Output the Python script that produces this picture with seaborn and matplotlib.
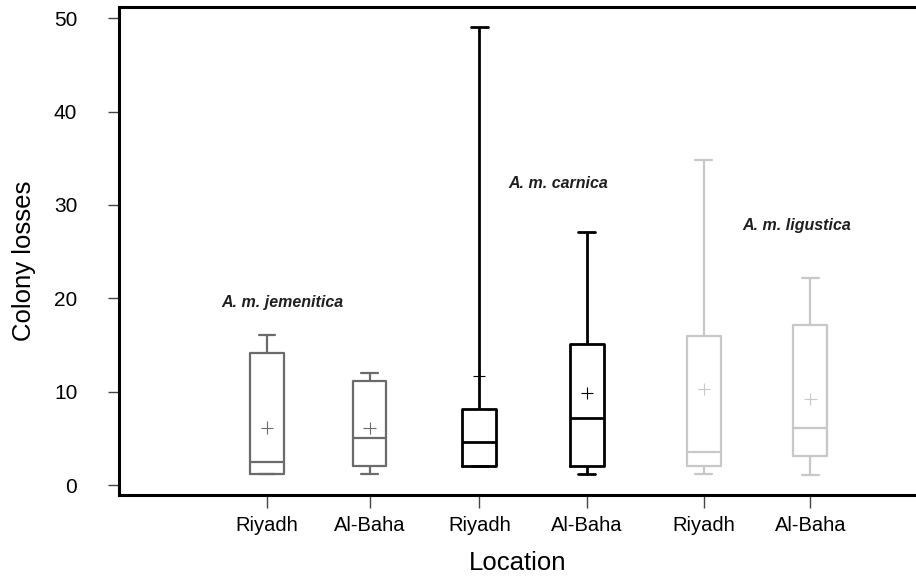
import matplotlib
matplotlib.use("Agg")
import matplotlib.pyplot as plt
from matplotlib.colors import to_hex
import seaborn as sns
import pandas as pd

# five-number summaries: min, Q1, median, Q3, max
species = ["A. m. jemenitica", "A. m. jemenitica", "A. m. carnica",
           "A. m. carnica", "A. m. ligustica", "A. m. ligustica"]
locations = ["Riyadh", "Al-Baha", "Riyadh", "Al-Baha", "Riyadh", "Al-Baha"]
summaries = [
    [1.15, 1.15, 2.5, 14.1, 16.05],
    [1.18, 2.07, 5.07, 11.16, 12.05],
    [2.07, 2.07, 4.65, 8.1, 49.07],
    [1.18, 2.07, 7.15, 15.13, 27.07],
    [1.18, 2.07, 3.58, 16.0, 34.8],
    [1.07, 3.14, 6.08, 17.1, 22.17],
]
means = [6.15, 6.08, 11.7, 9.84, 10.26, 9.2]
group_names = ["A. m. jemenitica", "A. m. carnica", "A. m. ligustica"]

# layout
box_x = [1.0, 2.0, 3.07, 4.12, 5.26, 6.30]
name_x = [1.15, 3.84, 6.17]
name_y = [19.6, 32.35, 27.75]
palette = {"A. m. jemenitica": "#6b6b6b", "A. m. carnica": "#000000",
           "A. m. ligustica": "#c8c8c8"}

rows = []
for x, sp, vals in zip(box_x, species, summaries):
    for v in vals:
        rows.append({"x": x, "loss": v, "species": sp})
df = pd.DataFrame(rows)

sns.set_style("ticks")
plt.rcParams["font.family"] = ["Liberation Sans", "DejaVu Sans"]
plt.rcParams["text.color"] = "black"
plt.rcParams["axes.labelcolor"] = "black"
plt.rcParams["xtick.labelcolor"] = "black"
plt.rcParams["ytick.labelcolor"] = "black"

fig = plt.figure(figsize=(9.16, 5.79), dpi=100)
ax = fig.add_axes([119 / 916, 84 / 579, 1 - 119 / 916, 488 / 579])

sns.boxplot(data=df, x="x", y="loss", hue="species", palette=palette,
            native_scale=True, dodge=False, fill=False, whis=(0, 100),
            width=0.33, linewidth=1.6, showfliers=False, legend=False, ax=ax)
sns.scatterplot(x=box_x, y=means, hue=species, palette=palette, marker="+",
                s=80, linewidth=0.8, legend=False, ax=ax, zorder=5)

# the carnica boxes are drawn heavier
for ln in ax.lines:
    if to_hex(ln.get_color()) == "#000000":
        ln.set_linewidth(2.0)

for name, tx, ty in zip(group_names, name_x, name_y):
    ax.text(tx, ty, name, ha="center", va="center", fontsize=11.5,
            fontweight="bold", fontstyle="italic", color="#1f1f1f")

ax.set_xlim(-0.444, 7.33)
ax.set_ylim(-1.07, 51.21)
ax.set_yticks([0, 10, 20, 30, 40, 50])
ax.set_xticks(box_x)
ax.set_xticklabels(locations)
ax.tick_params(axis="y", direction="out", length=8, width=1.0, color="#444444",
               pad=22, labelsize=15)
ax.tick_params(axis="x", direction="out", length=9, width=1.0, color="#444444",
               pad=6, labelsize=14.5)
ax.set_xlabel("Location", fontsize=18.5, labelpad=12)
ax.set_ylabel("Colony losses", fontsize=18.5)
ax.yaxis.set_label_coords(-0.104, 0.48)

for side in ["left", "bottom", "top"]:
    ax.spines[side].set_linewidth(2.2)
    ax.spines[side].set_color("black")
ax.spines["right"].set_visible(False)

fig.savefig("out.png", dpi=100)
